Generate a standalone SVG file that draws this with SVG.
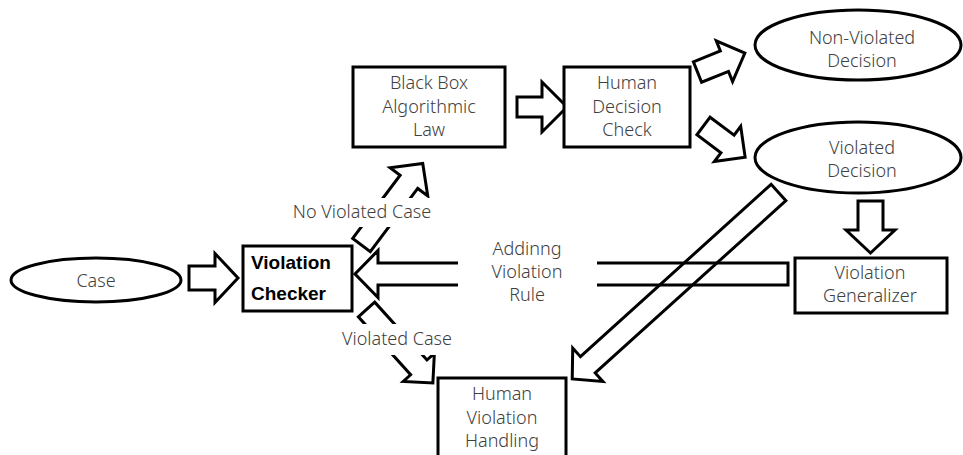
<svg xmlns="http://www.w3.org/2000/svg" width="963" height="455" viewBox="0 0 963 455">
<style>
.arr{fill:none;stroke:#000;stroke-width:3;stroke-linejoin:miter}
.box{fill:#fff;stroke:#000;stroke-width:3}
.t{font-family:"Noto Sans","Noto Sans CJK JP",sans-serif;font-size:18px;fill:#404040;text-anchor:middle;font-weight:300}
.b{font-family:"Liberation Sans",Arial,sans-serif;font-size:19px;font-weight:bold;fill:#000}
.bg{fill:#fff;stroke:none}
</style>
<rect width="963" height="455" fill="#fff"/>
<g id="connectors">
<path class="arr" transform="translate(189,278)" d="M0,-12 L26,-12 L26,-24.5 L49,0 L26,24.5 L26,12 L0,12 Z"/>
<path class="arr" transform="translate(517,107)" d="M0,-10 L25,-10 L25,-25 L50,0 L25,25 L25,10 L0,10 Z"/>
<path class="arr" transform="translate(697.5,72) rotate(-21.8)" d="M0,-11 L29,-11 L29,-22 L51,0 L29,22 L29,11 L0,11 Z"/>
<path class="arr" transform="translate(703.5,126) rotate(36.8)" d="M0,-11 L30,-11 L30,-22 L52,0 L30,22 L30,11 L0,11 Z"/>
<path class="arr" transform="translate(870.5,201) rotate(90)" d="M0,-12.5 L29,-12.5 L29,-24.5 L52,0 L29,24.5 L29,12.5 L0,12.5 Z"/>
<path class="arr" transform="translate(778.5,192.5) rotate(137.9)" d="M0,-11 L257,-11 L257,-22.5 L278,0 L257,22.5 L257,11 L0,11 Z"/>
<path class="arr" transform="translate(788,274) rotate(180)" d="M0,-11 L410,-11 L410,-23.5 L433,0 L410,23.5 L410,11 L0,11 Z"/>
<path class="arr" transform="translate(361.5,245) rotate(-53.1)" d="M0,-11 L79,-11 L79,-23.5 L102,0 L79,23.5 L79,11 L0,11 Z"/>
<path class="arr" transform="translate(366.5,309.5) rotate(47.9)" d="M0,-11 L78,-11 L78,-21 L99,0 L78,21 L78,11 L0,11 Z"/>
<rect class="bg" x="285" y="198" width="155" height="29"/>
<rect class="bg" x="335" y="324" width="125" height="31"/>
<rect class="bg" x="458" y="255" width="139" height="38"/>
<text class="t" x="362" y="218">No Violated Case</text>
<text class="t" x="397" y="345">Violated Case</text>
<text class="t" x="527" y="255">Addinng</text>
<text class="t" x="527" y="278">Violation</text>
<text class="t" x="527" y="301">Rule</text>
</g>
<g id="case">
<ellipse class="box" cx="96" cy="280" rx="85" ry="22"/>
<text class="t" x="96" y="287">Case</text>
</g>
<g id="violation-checker">
<rect class="box" x="243" y="246" width="109" height="65"/>
<text class="b" x="251" y="269">Violation</text>
<text class="b" x="251" y="300">Checker</text>
</g>
<g id="black-box">
<rect class="box" x="353" y="67" width="152" height="80"/>
<text class="t" x="429" y="89">Black Box</text>
<text class="t" x="429" y="113">Algorithmic</text>
<text class="t" x="429" y="136">Law</text>
</g>
<g id="human-decision-check">
<rect class="box" x="564" y="67" width="126" height="80"/>
<text class="t" x="627" y="89">Human</text>
<text class="t" x="627" y="113">Decision</text>
<text class="t" x="627" y="136">Check</text>
</g>
<g id="non-violated-decision">
<ellipse class="box" cx="858" cy="45" rx="103" ry="35"/>
<text class="t" x="862" y="44">Non-Violated</text>
<text class="t" x="862" y="67">Decision</text>
</g>
<g id="violated-decision">
<ellipse class="box" cx="858" cy="157.5" rx="103" ry="35.5"/>
<text class="t" x="862" y="154">Violated</text>
<text class="t" x="862" y="177">Decision</text>
</g>
<g id="violation-generalizer">
<rect class="box" x="795" y="258" width="152" height="55"/>
<text class="t" x="870" y="279">Violation</text>
<text class="t" x="870" y="302">Generalizer</text>
</g>
<g id="human-violation-handling">
<rect class="box" x="438" y="378" width="128" height="90"/>
<text class="t" x="502" y="400">Human</text>
<text class="t" x="502" y="424">Violation</text>
<text class="t" x="502" y="447">Handling</text>
</g>
</svg>
